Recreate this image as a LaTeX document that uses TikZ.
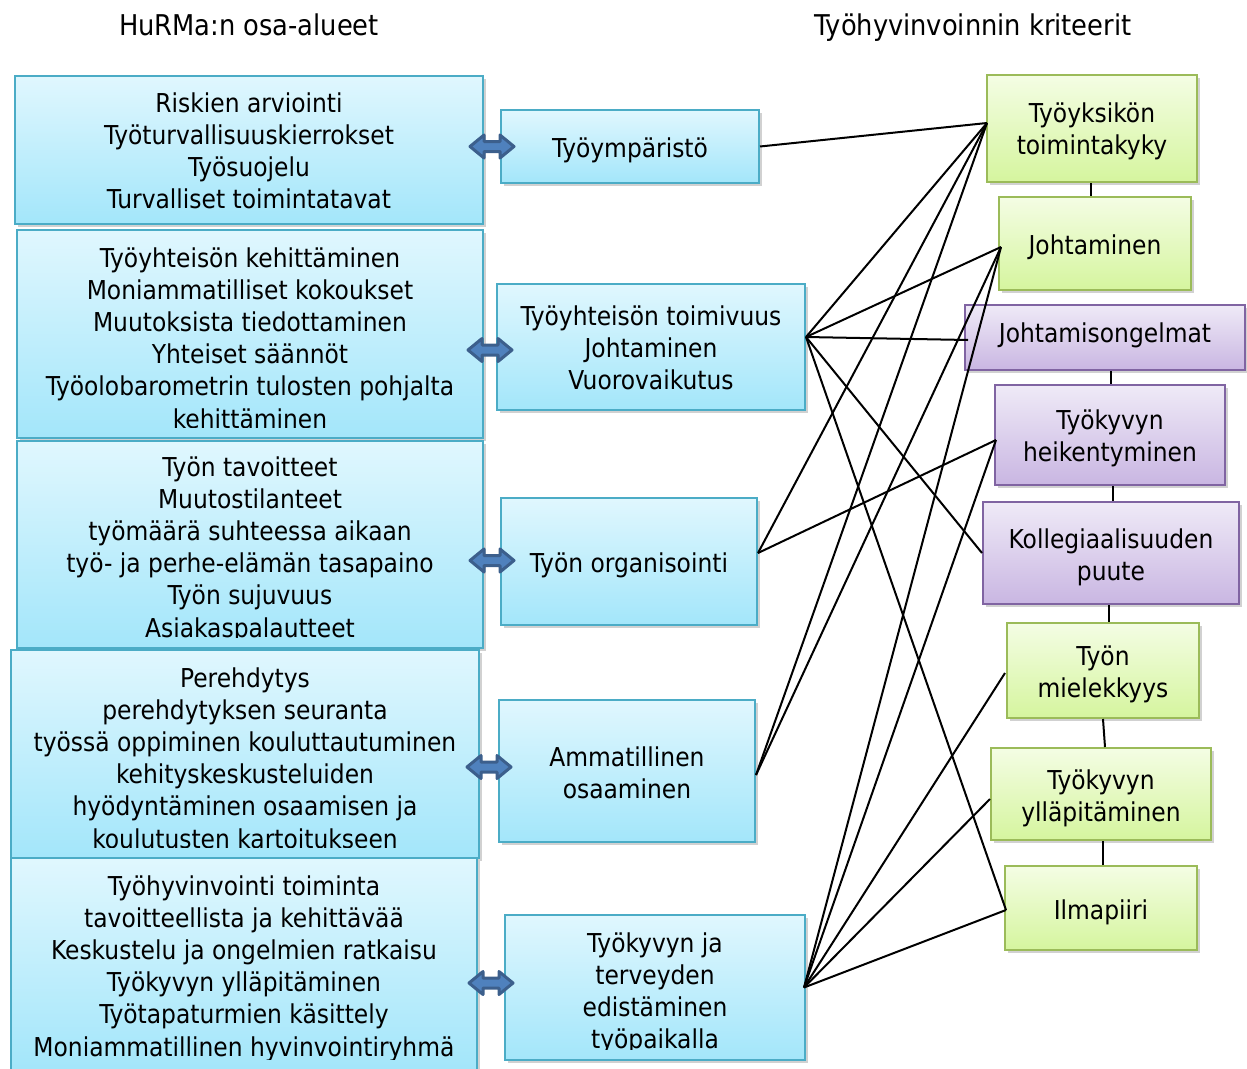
\documentclass[tikz,border=0pt]{standalone}
\usepackage{fontspec}
\setmainfont{DejaVu Sans Condensed}
\usetikzlibrary{shadows,calc}
\definecolor{bluetop}{HTML}{E0F7FE}
\definecolor{bluebot}{HTML}{A3E6FA}
\definecolor{bluebd}{HTML}{4BACC6}
\definecolor{greentop}{HTML}{F4FDE4}
\definecolor{greenbot}{HTML}{D5F59E}
\definecolor{greenbd}{HTML}{9BBB59}
\definecolor{purptop}{HTML}{EFEAF7}
\definecolor{purpbot}{HTML}{C9B6E2}
\definecolor{purpbd}{HTML}{8064A2}
\definecolor{arrfill}{HTML}{4F81BD}
\definecolor{arrdraw}{HTML}{3C5F8C}
\tikzset{
  boxbase/.style={draw, line width=2pt, inner sep=0pt,
    drop shadow={shadow xshift=2.5pt, shadow yshift=-3pt, opacity=0.3, fill=black!60}},
  bluebox/.style={boxbase, draw=bluebd, top color=bluetop, bottom color=bluebot},
  greenbox/.style={boxbase, draw=greenbd, top color=greentop, bottom color=greenbot},
  purpbox/.style={boxbase, draw=purpbd, top color=purptop, bottom color=purpbot},
  txt/.style={anchor=base, inner sep=0pt, font=\fontsize{26}{32}\selectfont},
  ttl/.style={anchor=base, inner sep=0pt, font=\fontsize{28.6}{34}\selectfont},
  conn/.style={line width=2pt, black},
  dblarr/.pic={\filldraw[fill=arrfill, draw=arrdraw, line width=3pt, line join=round]
    (-22,0) -- (-8,-11.5) -- (-8,-5) -- (8,-5) -- (8,-11.5) -- (22,0) -- (8,11.5) -- (8,5)
    -- (-8,5) -- (-8,11.5) -- cycle;}
}
\newcommand{\bx}[6]{\node[#1, minimum width=#5pt, minimum height=#6pt] (#2) at (#3,#4) {};}
\newcommand{\btext}[4]{%
  \begin{scope}
    \clip ([xshift=2pt,yshift=-2pt]#1.north west) rectangle ([xshift=-2pt,yshift=12pt]#1.south east);
    \foreach \linetext [count=\i from 0] in {#4} {
      \node[txt] (#1t\i) at (#2, #3+\i*32.2+9) {\linetext};
    }
  \end{scope}}
\begin{document}
\begin{tikzpicture}[x=1pt,y=-1pt]
\useasboundingbox (0,0) rectangle (1247,1068);
% titles
\node[ttl] (title1) at (249,35) {HuRMa:n osa-alueet};
\node[ttl] (title2) at (973,35) {Työhyvinvoinnin kriteerit};
% left boxes
\bx{bluebox}{l1}{249}{150}{468}{148}
\btext{l1}{249}{103}{Riskien arviointi,Työturvallisuuskierrokset,Työsuojelu,Turvalliset toimintatavat}
\bx{bluebox}{l2}{250}{334}{466}{208}
\btext{l2}{250}{258}{Työyhteisön kehittäminen,Moniammatilliset kokoukset,Muutoksista tiedottaminen,Yhteiset säännöt,Työolobarometrin tulosten pohjalta,kehittäminen}
\bx{bluebox}{l3}{250}{544.5}{466}{207}
\btext{l3}{250}{467}{Työn tavoitteet,Muutostilanteet,työmäärä suhteessa aikaan,työ- ja perhe-elämän tasapaino,Työn sujuvuus,Asiakaspalautteet}
\bx{bluebox}{l4}{245}{754}{468}{208}
\btext{l4}{245}{678}{Perehdytys,perehdytyksen seuranta,työssä oppiminen kouluttautuminen,kehityskeskusteluiden,hyödyntäminen osaamisen ja,koulutusten kartoitukseen}
\bx{bluebox}{l5}{244}{964}{466}{212}
\btext{l5}{244}{886}{Työhyvinvointi toiminta,tavoitteellista ja kehittävää,Keskustelu ja ongelmien ratkaisu,Työkyvyn ylläpitäminen,Työtapaturmien käsittely,Moniammatillinen hyvinvointiryhmä}
% middle boxes
\bx{bluebox}{m1}{630}{146.5}{258}{73}
\btext{m1}{630}{148}{Työympäristö}
\bx{bluebox}{m2}{651}{347}{308}{126}
\btext{m2}{651}{316}{Työyhteisön toimivuus,Johtaminen,Vuorovaikutus}
\bx{bluebox}{m3}{629}{561.5}{256}{127}
\btext{m3}{629}{563}{Työn organisointi}
\bx{bluebox}{m4}{627}{771}{256}{142}
\btext{m4}{627}{757}{Ammatillinen,osaaminen}
\bx{bluebox}{m5}{655}{987.5}{300}{145}
\btext{m5}{655}{943}{Työkyvyn ja,terveyden,edistäminen,työpaikalla}
% double arrows
\foreach \k/\dy in {1/0,2/3,3/-1,4/-4,5/-4.5}{
  \path ($(l\k.east |- m\k.west)!0.5!(m\k.west)$) ++(0,\dy) pic {dblarr};
}
% right boxes
\bx{greenbox}{r1}{1092}{128.5}{210}{107}
\btext{r1}{1092}{113}{Työyksikön,toimintakyky}
\bx{greenbox}{r2}{1095}{243.5}{192}{93}
\btext{r2}{1095}{245}{Johtaminen}
\bx{purpbox}{r3}{1105}{337.5}{280}{65}
\btext{r3}{1105}{333}{Johtamisongelmat}
\bx{purpbox}{r4}{1110}{435}{230}{100}
\btext{r4}{1110}{420}{Työkyvyn,heikentyminen}
\bx{purpbox}{r5}{1111}{553}{256}{102}
\btext{r5}{1111}{539}{Kollegiaalisuuden,puute}
\bx{greenbox}{r6}{1103}{670.5}{192}{95}
\btext{r6}{1103}{656}{Työn,mielekkyys}
\bx{greenbox}{r7}{1101}{794}{220}{92}
\btext{r7}{1101}{780}{Työkyvyn,ylläpitäminen}
\bx{greenbox}{r8}{1101}{908}{192}{84}
\btext{r8}{1101}{910}{Ilmapiiri}
% vertical links
\foreach \a/\b/\xa/\xb in {r1/r2/1091/1091,r3/r4/1111/1111,r4/r5/1113/1113,r5/r6/1109/1109,r6/r7/1103/1105,r7/r8/1103/1103}{
  \coordinate (\a va) at (\xa,0);
  \coordinate (\a vb) at (\xb,0);
  \draw[conn] (\a.south -| \a va) -- (\b.north -| \a vb);
}
% connection points
\coordinate (m2p) at ([yshift=10pt]m2.east);
\coordinate (m3p) at ([yshift=8.5pt]m3.east);
\coordinate (m4p) at ([yshift=-4pt]m4.east);
\coordinate (m5p) at ([xshift=-2pt]m5.east);
\coordinate (r1p) at ([xshift=1pt,yshift=5.5pt]r1.west);
\coordinate (r2p) at ([xshift=3pt,yshift=-3.5pt]r2.west);
\coordinate (r3p) at ([xshift=4pt,yshift=-2.5pt]r3.west);
\coordinate (r4p) at ([xshift=2pt,yshift=-5pt]r4.west);
\coordinate (r5p) at (r5.west);
\coordinate (r6p) at ([xshift=-1pt,yshift=-2.5pt]r6.west);
\coordinate (r7p) at ([yshift=-5pt]r7.west);
\coordinate (r8p) at ([xshift=2pt,yshift=-2pt]r8.west);
% connectors
\draw[conn] (m1.east) -- (r1p);
\foreach \t in {r1p,r2p,r3p,r5p,r8p}{\draw[conn] (m2p) -- (\t);}
\foreach \t in {r1p,r4p}{\draw[conn] (m3p) -- (\t);}
\foreach \t in {r1p,r2p}{\draw[conn] (m4p) -- (\t);}
\foreach \t in {r2p,r4p,r6p,r7p,r8p}{\draw[conn] (m5p) -- (\t);}
\end{tikzpicture}
\end{document}
